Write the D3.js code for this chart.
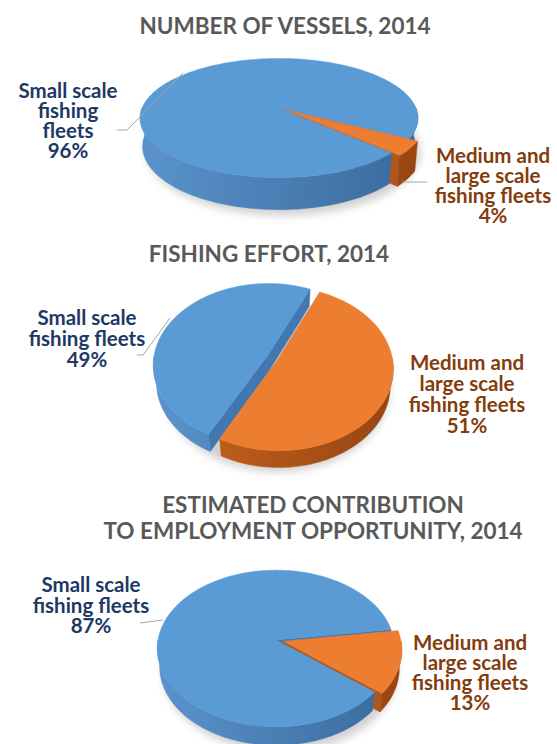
<!DOCTYPE html>
<html>
<head>
<meta charset="utf-8">
<script src="https://cdn.jsdelivr.net/npm/d3@7"></script>
<style>
  body { margin: 0; background: #fff; }
  text { font-family: Lato, "Open Sans", sans-serif; font-weight: 700; }
</style>
</head>
<body>
<svg id="chart" width="557" height="744"></svg>
<script>
// ---- data ----
const categories = ["Small scale fishing fleets", "Medium and large scale fishing fleets"]
const vesselShares = [96, 4]
const effortShares = [49, 51]
const employmentShares = [87, 13]

const vesselTitle = ["NUMBER OF VESSELS, 2014"]
const effortTitle = ["FISHING EFFORT, 2014"]
const employmentTitle = ["ESTIMATED CONTRIBUTION", "TO EMPLOYMENT OPPORTUNITY, 2014"]

const smallLinesNarrow = ["Small scale", "fishing", "fleets"]
const smallLinesWide = ["Small scale", "fishing fleets"]
const mediumLines = ["Medium and", "large scale", "fishing fleets"]

// ---- layout ----
const blue = { top: "#5b9bd5", light: "#5a93cc", dark: "#3a6a9c", inner: "#4277b0", label: "#203864" }
const orange = { top: "#ed7d31", light: "#c9651f", dark: "#984612", inner: "#b0561a", label: "#843c0c" }
const sliceColors = [blue, orange]

const charts = [
  {
    title: vesselTitle, titleAt: [285, 34], values: vesselShares,
    pie: { cx: 279, cy: 108, R: 137, tilt: 25, persp: 5.4, depth: 0.23, start: 133.4, explode: [0, 0.06] },
    labels: [
      { lines: smallLinesNarrow, x: 68, y: 98, gap: 20 },
      { lines: mediumLines, x: 493, y: 163, gap: 20 }
    ],
    leaders: [[[117, 130], [127, 130], [183, 73]], [[402, 182], [427, 182]]]
  },
  {
    title: effortTitle, titleAt: [269, 262], values: effortShares,
    pie: { cx: 273, cy: 357, R: 114, tilt: 45, persp: 6, depth: 0.22, start: 207.6, explode: [0.05, 0.05] },
    labels: [
      { lines: smallLinesWide, x: 87, y: 325, gap: 21 },
      { lines: mediumLines, x: 467, y: 370, gap: 21 }
    ],
    leaders: [[[137, 355], [143, 355], [170, 318]]]
  },
  {
    title: employmentTitle, titleAt: [313, 513], values: employmentShares,
    pie: { cx: 276, cy: 640, R: 118, tilt: 41, persp: 7, depth: 0.21, start: 128.8, explode: [0, 0.06] },
    labels: [
      { lines: smallLinesWide, x: 91, y: 592, gap: 20.5 },
      { lines: mediumLines, x: 470, y: 650, gap: 20 }
    ],
    leaders: [[[140, 623], [163, 620]]]
  }
]

const svg = d3.select("#chart")
const defs = svg.append("defs")
defs.append("filter").attr("id", "soft")
  .attr("x", "-20%").attr("y", "-20%").attr("width", "140%").attr("height", "140%")
  .append("feGaussianBlur").attr("stdDeviation", 4)

const rad = deg => deg * Math.PI / 180
const line = d3.line()

// perspective projection of the pie: x right, d away from viewer, z up (0 = top face)
function makeProjection(p) {
  const phi = rad(p.tilt), s = Math.sin(phi), c = Math.cos(phi)
  const d0 = p.persp * p.R
  return (x, d, z) => {
    const k = d0 / (d0 + d * c - z * s)
    return [p.cx + x * k, p.cy - (d * s + z * c) * k]
  }
}

function arcAngles(a0, a1) {
  const n = Math.max(2, Math.ceil(Math.abs(a1 - a0) / rad(1.5)))
  return d3.range(n + 1).map(i => a0 + (a1 - a0) * i / n)
}

// parts of [a0, a1] where the outer wall faces the viewer
function frontIntervals(a0, a1) {
  const out = []
  for (let k = -1; k <= 2; k++) {
    const lo = Math.max(a0, Math.PI / 2 + 2 * Math.PI * k)
    const hi = Math.min(a1, 3 * Math.PI / 2 + 2 * Math.PI * k)
    if (hi > lo) out.push([lo, hi])
  }
  return out
}

charts.forEach((chart, ci) => {
  const p = chart.pie
  const proj = makeProjection(p)
  const h = p.depth * p.R
  const g = svg.append("g")

  const arcs = d3.pie().sort(null)
    .startAngle(rad(p.start)).endAngle(rad(p.start) + 2 * Math.PI)(chart.values)

  // gradients for the side walls
  sliceColors.forEach((col, i) => {
    const grad = defs.append("linearGradient").attr("id", `side${ci}_${i}`)
      .attr("gradientUnits", "userSpaceOnUse")
      .attr("x1", p.cx - p.R).attr("x2", p.cx + p.R).attr("y1", 0).attr("y2", 0)
    grad.append("stop").attr("offset", "0%").attr("stop-color", col.light)
    grad.append("stop").attr("offset", "100%").attr("stop-color", col.dark)
  })

  // soft shadow under the pie
  const sh = arcAngles(0, 2 * Math.PI).map(a => proj(p.R * Math.sin(a) + 4, p.R * Math.cos(a) - 6, -h - 2))
  g.append("path").attr("d", line(sh) + "Z")
    .attr("fill", "#000").attr("opacity", 0.18).attr("filter", "url(#soft)")

  const walls = []
  const tops = []
  arcs.forEach((a, i) => {
    const mid = (a.startAngle + a.endAngle) / 2
    const e = p.explode[i] * p.R
    const ox = e * Math.sin(mid), od = e * Math.cos(mid)
    const pt = (ang, r, z) => proj(ox + r * Math.sin(ang), od + r * Math.cos(ang), z)

    // top face
    const topPts = [pt(0, 0, 0)].concat(arcAngles(a.startAngle, a.endAngle).map(t => pt(t, p.R, 0)))
    tops.push({ d: line(topPts) + "Z", fill: sliceColors[i].top })

    // radial cut faces
    const cut = ang => [pt(ang, 0, 0), pt(ang, p.R, 0), pt(ang, p.R, -h), pt(ang, 0, -h)]
    if (Math.sin(a.startAngle) < 0)
      walls.push({ d: line(cut(a.startAngle)) + "Z", fill: sliceColors[i].inner, key: od + 0.5 * p.R * Math.cos(a.startAngle) })
    if (Math.sin(a.endAngle) > 0)
      walls.push({ d: line(cut(a.endAngle)) + "Z", fill: sliceColors[i].inner, key: od + 0.5 * p.R * Math.cos(a.endAngle) })

    // outer walls
    frontIntervals(a.startAngle, a.endAngle).forEach(([lo, hi]) => {
      const ts = arcAngles(lo, hi)
      const pts = ts.map(t => pt(t, p.R, 0)).concat(ts.slice().reverse().map(t => pt(t, p.R, -h)))
      walls.push({ d: line(pts) + "Z", fill: `url(#side${ci}_${i})`, key: od + p.R * d3.mean(ts, t => Math.cos(t)) })
    })
  })

  walls.sort((a, b) => b.key - a.key)
  g.selectAll("path.wall").data(walls).join("path").attr("class", "wall")
    .attr("d", d => d.d).attr("fill", d => d.fill)
    .attr("stroke", d => d.fill).attr("stroke-width", 0.4)
  g.selectAll("path.top").data(tops).join("path").attr("class", "top")
    .attr("d", d => d.d).attr("fill", d => d.fill)
    .attr("stroke", d => d.fill).attr("stroke-width", 0.4)

  // leader lines
  chart.leaders.forEach(pts => {
    g.append("path").attr("d", line(pts)).attr("fill", "none")
      .attr("stroke", "#a6a6a6").attr("stroke-width", 1)
  })

  // title
  g.append("text").attr("x", chart.titleAt[0]).attr("y", chart.titleAt[1])
    .attr("text-anchor", "middle").attr("fill", "#595959").style("font-size", "22.5px")
    .selectAll("tspan").data(chart.title).join("tspan")
    .attr("x", chart.titleAt[0]).attr("dy", (d, i) => i ? 26 : 0).text(d => d)

  // data labels
  chart.labels.forEach((lab, i) => {
    const lines = lab.lines.concat([`${chart.values[i]}%`])
    g.append("text").attr("text-anchor", "middle").attr("fill", sliceColors[i].label)
      .style("font-size", "20.5px")
      .selectAll("tspan").data(lines).join("tspan")
      .attr("x", lab.x).attr("y", (d, j) => lab.y + j * lab.gap).text(d => d)
  })
})
</script>
</body>
</html>
